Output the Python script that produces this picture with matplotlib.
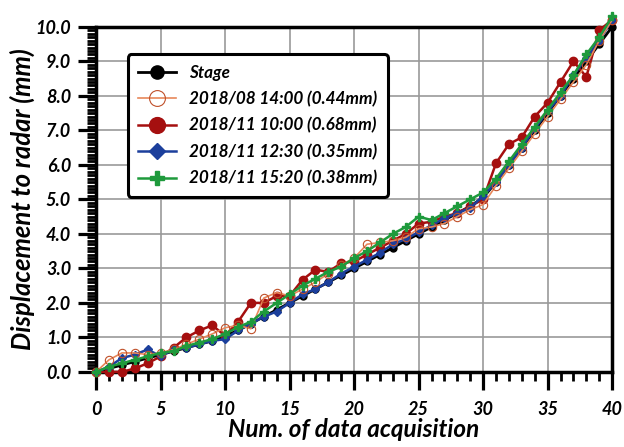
import numpy as np
import matplotlib.pyplot as plt
from matplotlib.ticker import MultipleLocator

plt.rcParams['font.family'] = ['Lato', 'DejaVu Sans']

x = np.arange(0, 41)

stage = [0.0, 0.1, 0.2, 0.3, 0.4, 0.5, 0.6, 0.7, 0.8, 0.9,
         1.05, 1.2, 1.4, 1.6, 1.8, 2.0, 2.2, 2.4, 2.6, 2.8,
         3.0, 3.2, 3.4, 3.6, 3.8, 4.0, 4.2, 4.4, 4.6, 4.8,
         5.05, 5.5, 6.0, 6.5, 7.0, 7.5, 8.0, 8.5, 9.0, 9.5, 10.0]
aug_1400 = [0.0, 0.35, 0.55, 0.55, 0.5, 0.55, 0.65, 0.8, 0.95, 1.1,
            1.28, 1.35, 1.25, 2.14, 2.3, 2.2, 2.4, 2.6, 2.85, 3.1,
            3.3, 3.7, 3.75, 3.8, 3.9, 4.15, 4.2, 4.3, 4.5, 4.7,
            4.85, 5.4, 5.9, 6.4, 6.9, 7.4, 7.9, 8.4, 8.9, 9.6, 10.2]
nov_1000 = [0.0, 0.0, 0.0, 0.1, 0.25, 0.45, 0.7, 1.0, 1.2, 1.35,
            1.05, 1.45, 2.0, 2.0, 2.2, 2.2, 2.67, 2.96, 2.9, 3.15,
            3.2, 3.4, 3.6, 3.8, 4.0, 4.3, 4.35, 4.5, 4.6, 4.8,
            5.0, 6.05, 6.6, 6.8, 7.4, 7.8, 8.4, 9.0, 8.55, 9.9, 10.2]
nov_1230 = [0.0, 0.15, 0.4, 0.5, 0.65, 0.45, 0.65, 0.7, 0.8, 0.9,
            0.95, 1.2, 1.4, 1.6, 1.75, 2.0, 2.25, 2.4, 2.6, 2.85,
            3.05, 3.25, 3.45, 3.7, 3.85, 4.05, 4.25, 4.45, 4.6, 4.75,
            5.1, 5.5, 6.0, 6.5, 7.05, 7.55, 8.0, 8.6, 9.1, 9.6, 10.2]
nov_1520 = [0.0, 0.15, 0.25, 0.35, 0.45, 0.55, 0.6, 0.75, 0.85, 0.95,
            1.1, 1.3, 1.45, 1.75, 2.0, 2.25, 2.5, 2.7, 2.9, 3.05,
            3.3, 3.5, 3.75, 4.0, 4.2, 4.5, 4.4, 4.6, 4.8, 5.0,
            5.2, 5.6, 6.1, 6.6, 7.1, 7.6, 8.1, 8.6, 9.2, 9.7, 10.3]

labels = ['Stage', '2018/08 14:00 (0.44mm)', '2018/11 10:00 (0.68mm)',
          '2018/11 12:30 (0.35mm)', '2018/11 15:20 (0.38mm)']

fig = plt.figure(figsize=(6.24, 4.47), dpi=100)
ax = fig.add_axes([0.154, 0.168, 0.827, 0.772])

ax.plot(x, stage, color='black', lw=2, marker='o', ms=5, label=labels[0], zorder=3, clip_on=False)
ax.plot(x, aug_1400, color='#e8875a', lw=1.2, marker='o', ms=6, mfc='none',
        mec='#c0502a', mew=0.8, label=labels[1], zorder=4, clip_on=False)
ax.plot(x, nov_1000, color='#a50f0f', lw=1.8, marker='o', ms=6, label=labels[2], zorder=3, clip_on=False)
ax.plot(x, nov_1230, color='#1c3f9c', lw=1.8, marker='D', ms=4.5, label=labels[3], zorder=3, clip_on=False)
ax.plot(x, nov_1520, color='#1e9a3c', lw=1.8, marker='P', ms=5.5, label=labels[4], zorder=5, clip_on=False)

ax.set_xlim(0, 40)
ax.set_ylim(0, 10)
ax.xaxis.set_major_locator(MultipleLocator(5))
ax.xaxis.set_minor_locator(MultipleLocator(1))
ax.yaxis.set_minor_locator(MultipleLocator(0.1))
ax.set_yticks(np.arange(0, 11, 1))
ax.set_yticklabels([f'{v:.1f}' for v in np.arange(0, 11, 1)])

ax.grid(True, which='major', color='#999999', lw=1.2)
ax.set_axisbelow(True)
for s in ax.spines.values():
    s.set_linewidth(2.5)
ax.tick_params(which='major', length=13, width=2.3, direction='out')
ax.tick_params(which='minor', length=6.5, width=2, direction='out')
ax.tick_params(axis='x', pad=8)
ax.tick_params(axis='y', pad=5)
for t in ax.get_xticklabels() + ax.get_yticklabels():
    t.set_fontweight('bold')
    t.set_fontstyle('italic')
    t.set_fontsize(13)

ax.set_xlabel('Num. of data acquisition', fontsize=17.5, fontweight='bold', style='italic', labelpad=0)
ax.set_ylabel('Displacement to radar (mm)', fontsize=18.5, fontweight='bold', style='italic', labelpad=0)

leg = ax.legend(loc='upper left', bbox_to_anchor=(0.045, 0.945), markerscale=1.9,
                prop={'weight': 'bold', 'style': 'italic', 'size': 12.3},
                frameon=True, fancybox=True, framealpha=1, edgecolor='black',
                borderpad=0.6, labelspacing=0.6, handlelength=2.2)
leg.get_frame().set_linewidth(2.2)
leg.set_zorder(10)

fig.savefig('out.png', dpi=100)
